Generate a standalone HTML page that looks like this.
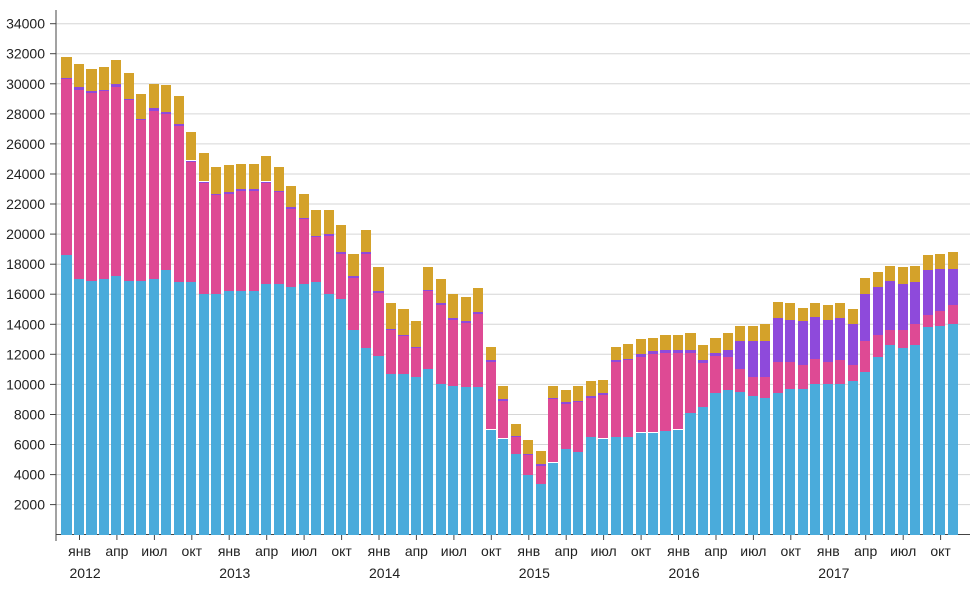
<!DOCTYPE html>
<html><head><meta charset="utf-8"><style>
html,body{margin:0;padding:0;background:#fff;width:976px;height:589px;overflow:hidden;position:relative}
text{font-family:"Liberation Sans",Arial,sans-serif;fill:#222}
svg{position:absolute;left:0;top:0}
.b{position:absolute;width:10.2px;z-index:2}
</style></head><body>
<svg id="s" width="976" height="589" xmlns="http://www.w3.org/2000/svg"></svg>
<div id="bars"></div>
<script>
(function(){
var d=[[18.6,30.3,30.4,31.8],[17.0,29.6,29.8,31.3],[16.9,29.4,29.5,31.0],[17.0,29.5,29.6,31.1],[17.2,29.8,30.0,31.6],[16.9,28.9,29.0,30.7],[16.9,27.6,27.65,29.3],[17.0,28.2,28.4,30.0],[17.6,28.0,28.1,29.9],[16.8,27.2,27.3,29.2],[16.8,24.8,24.9,26.8],[16.0,23.4,23.5,25.4],[16.0,22.6,22.7,24.5],[16.2,22.7,22.8,24.6],[16.2,22.9,23.0,24.7],[16.2,22.9,23.0,24.7],[16.7,23.4,23.5,25.2],[16.7,22.8,22.9,24.5],[16.5,21.7,21.8,23.2],[16.7,21.0,21.1,22.7],[16.8,19.8,19.9,21.6],[16.0,19.9,20.0,21.6],[15.7,18.7,18.8,20.6],[13.6,17.1,17.2,18.7],[12.4,18.7,18.8,20.3],[11.9,16.1,16.2,17.8],[10.7,13.6,13.7,15.4],[10.7,13.2,13.3,15.0],[10.5,12.4,12.5,14.2],[11.0,16.2,16.3,17.8],[10.0,15.3,15.4,17.0],[9.9,14.3,14.4,16.0],[9.8,14.1,14.2,15.8],[9.8,14.7,14.8,16.4],[7.0,11.5,11.6,12.5],[6.4,8.9,9.0,9.9],[5.4,6.5,6.6,7.4],[4.0,5.3,5.4,6.3],[3.4,4.6,4.7,5.6],[4.8,9.0,9.1,9.9],[5.7,8.7,8.8,9.6],[5.5,8.8,8.9,9.9],[6.5,9.1,9.2,10.2],[6.4,9.3,9.4,10.3],[6.5,11.5,11.6,12.5],[6.5,11.6,11.7,12.7],[6.8,11.8,12.0,13.0],[6.8,12.0,12.2,13.1],[6.9,12.1,12.3,13.3],[7.0,12.1,12.3,13.3],[8.1,12.1,12.3,13.4],[8.5,11.4,11.6,12.6],[9.4,11.9,12.1,13.1],[9.6,11.8,12.3,13.4],[9.5,11.0,12.9,13.9],[9.2,10.5,12.9,13.9],[9.1,10.5,12.9,14.0],[9.4,11.5,14.4,15.5],[9.7,11.5,14.3,15.4],[9.7,11.3,14.2,15.1],[10.0,11.7,14.5,15.4],[10.0,11.5,14.3,15.3],[10.0,11.6,14.4,15.4],[10.2,11.3,14.0,15.0],[10.8,12.9,16.0,17.1],[11.8,13.3,16.5,17.5],[12.6,13.6,16.9,17.9],[12.4,13.6,16.7,17.8],[12.6,14.0,16.8,17.9],[13.8,14.6,17.6,18.6],[13.9,14.9,17.7,18.7],[14.0,15.3,17.7,18.8]];
function Y(v){return 534.7-v*15.03;}
var h='';
for(var v=2;v<=34;v+=2){var yy=Y(v).toFixed(1);h+='<line x1="56" x2="970" y1="'+yy+'" y2="'+yy+'" stroke="#d6d6d6"/><line x1="50" x2="56" y1="'+yy+'" y2="'+yy+'" stroke="#444"/><text x="45" y="'+(+yy+5)+'" font-size="14" text-anchor="end">'+(v*1000)+'</text>';}
h+='<line x1="56" x2="56" y1="10" y2="535" stroke="#444"/><line x1="56" x2="970" y1="534.5" y2="534.5" stroke="#444"/>';
var m=['янв','апр','июл','окт'];
h+='<line x1="56" x2="56" y1="534" y2="541" stroke="#444"/>';
for(var j=1;j<=70;j+=3){var tx=66.5+j*12.48+0.5;h+='<line x1="'+tx.toFixed(1)+'" x2="'+tx.toFixed(1)+'" y1="534" y2="540" stroke="#444"/>';
var q=((j-1)/3)%4;h+='<text x="'+tx.toFixed(1)+'" y="556" font-size="14" text-anchor="middle">'+m[q]+'</text>';
if(q==0)h+='<text x="'+(tx-10).toFixed(1)+'" y="578" font-size="14">'+(2012+(j-1)/12)+'</text>';}
document.getElementById('s').innerHTML=h;
var cols=['#4aabdb','#de4a94','#8e4adb','#d4a22a'];
var bars=document.getElementById('bars');
for(var i=0;i<d.length;i++){var bx=66.5+i*12.48-5.1,prev=0;
for(var k=0;k<4;k++){var tv=d[i][k];if(tv>prev){var e=document.createElement('div');e.className='b';e.style.left=bx.toFixed(1)+'px';e.style.top=Y(tv).toFixed(1)+'px';e.style.height=(Y(prev)-Y(tv)).toFixed(1)+'px';e.style.background=cols[k];bars.appendChild(e);prev=tv;}}}
})();
</script>
</body></html>
